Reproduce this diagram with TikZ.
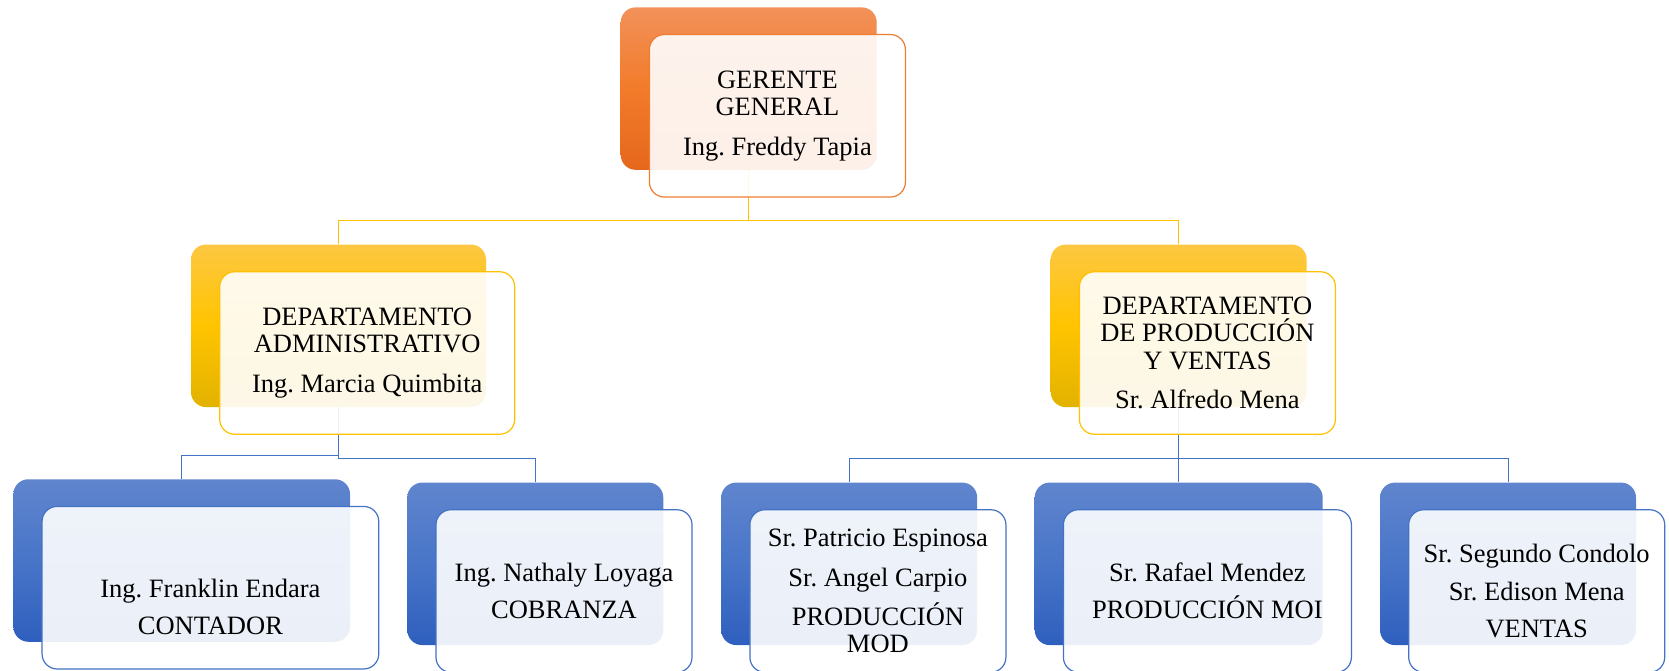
\documentclass[tikz,border=0pt]{standalone}
\usepackage{fontspec}
\setmainfont{Liberation Serif}
\frenchspacing
\definecolor{orgTop}{RGB}{242,145,90}
\definecolor{orgMid}{RGB}{242,123,42}
\definecolor{orgBot}{RGB}{229,103,28}
\definecolor{orgLine}{RGB}{237,125,49}
\definecolor{ylwTop}{RGB}{253,199,66}
\definecolor{ylwMid}{RGB}{255,196,0}
\definecolor{ylwBot}{RGB}{226,178,0}
\definecolor{ylwLine}{RGB}{255,192,0}
\definecolor{bluTop}{RGB}{96,133,206}
\definecolor{bluMid}{RGB}{72,117,200}
\definecolor{bluBot}{RGB}{47,95,190}
\definecolor{bluLine}{RGB}{68,114,196}

\begin{document}
\begin{tikzpicture}[x=1pt,y=-1pt,
    back/.style={rounded corners=15pt, minimum height=162.5pt, inner sep=0},
    front/.style={draw, rounded corners=15pt, minimum height=162.5pt, inner sep=0,
      fill=white, fill opacity=0.9, line width=1.2pt},
    orgBack/.style={back, top color=orgTop, bottom color=orgBot, middle color=orgMid},
    ylwBack/.style={back, top color=ylwTop, bottom color=ylwBot, middle color=ylwMid},
    bluBack/.style={back, top color=bluTop, bottom color=bluBot, middle color=bluMid},
    txt/.style={align=center, inner sep=0, font=\fontsize{26.5}{27.5}\selectfont}]
    \useasboundingbox (0,0) rectangle (1669,670);
    %% Draw the back boxes
    \node[orgBack, minimum width=256pt] (gerB) at (748.7,88.6) {};
    \node[ylwBack, minimum width=295pt] (admB) at (338.5,325.8) {};
    \node[ylwBack, minimum width=256pt] (pvB) at (1178.7,325.8) {};
    \node[bluBack, minimum width=336.7pt] (b1B) at (181.7,560.5) {};
    \node[bluBack, minimum width=256pt] (b2B) at (535.3,563.8) {};
    \node[bluBack, minimum width=256pt] (b3B) at (849.2,563.8) {};
    \node[bluBack, minimum width=288pt] (b4B) at (1178.7,563.8) {};
    \node[bluBack, minimum width=256pt] (b5B) at (1508,563.8) {};
    %% Draw the lines
    \begin{scope}[every path/.style={draw=ylwLine, line width=1pt}]
      \draw (gerB.south) -- ++(0,50.7) -| (admB.north);
      \draw (gerB.south) -- ++(0,50.7) -| (pvB.north);
    \end{scope}
    \begin{scope}[every path/.style={draw=bluLine, line width=1pt}]
      \draw (admB.south) -- ++(0,48.3) -| (b1B.north);
      \draw (admB.south) -- ++(0,51.6) -| (b2B.north);
      \draw (pvB.south) -- ++(0,51.6) -| (b3B.north);
      \draw (pvB.south) -- (b4B.north);
      \draw (pvB.south) -- ++(0,51.6) -| (b5B.north);
    \end{scope}
    %% Draw the front boxes
    \node[front, draw=orgLine, minimum width=256pt] (gerF) at ([shift={(28.7,27.2)}]gerB.center) {};
    \node[front, draw=ylwLine, minimum width=295pt] (admF) at ([shift={(28.7,27.2)}]admB.center) {};
    \node[front, draw=ylwLine, minimum width=256pt] (pvF) at ([shift={(28.7,27.2)}]pvB.center) {};
    \node[front, draw=bluLine, minimum width=336.7pt] (b1F) at ([shift={(28.7,27.2)}]b1B.center) {};
    \node[front, draw=bluLine, minimum width=256pt] (b2F) at ([shift={(28.7,27.2)}]b2B.center) {};
    \node[front, draw=bluLine, minimum width=256pt] (b3F) at ([shift={(28.7,27.2)}]b3B.center) {};
    \node[front, draw=bluLine, minimum width=288pt] (b4F) at ([shift={(28.7,27.2)}]b4B.center) {};
    \node[front, draw=bluLine, minimum width=256pt] (b5F) at ([shift={(28.7,27.2)}]b5B.center) {};
    %% Draw the texts
    \node[txt] (gerT) at (gerF) {GERENTE\\GENERAL\\[12pt]Ing. Freddy Tapia};
    \node[txt] (admT) at (admF) {DEPARTAMENTO\\ADMINISTRATIVO\\[12pt]Ing. Marcia Quimbita};
    \node[txt] (pvT) at (pvF) {DEPARTAMENTO\\DE PRODUCCIÓN\\Y VENTAS\\[12pt]Sr. Alfredo Mena};
    \node[txt] (b1T) at ([yshift=-19pt]b1F.center) {Ing. Franklin Endara\\[9.5pt]CONTADOR};
    \node[txt] (b2T) at (b2F) {Ing. Nathaly Loyaga\\[10pt]COBRANZA};
    \node[txt] (b3T) at (b3F) {Sr. Patricio Espinosa\\[12pt]Sr. Angel Carpio\\[9.5pt]PRODUCCIÓN\\MOD};
    \node[txt] (b4T) at (b4F) {Sr. Rafael Mendez\\[10pt]PRODUCCIÓN MOI};
    \node[txt] (b5T) at (b5F) {Sr. Segundo Condolo\\[10.5pt]Sr. Edison Mena\\[10pt]VENTAS};
  \end{tikzpicture}
\end{document}
